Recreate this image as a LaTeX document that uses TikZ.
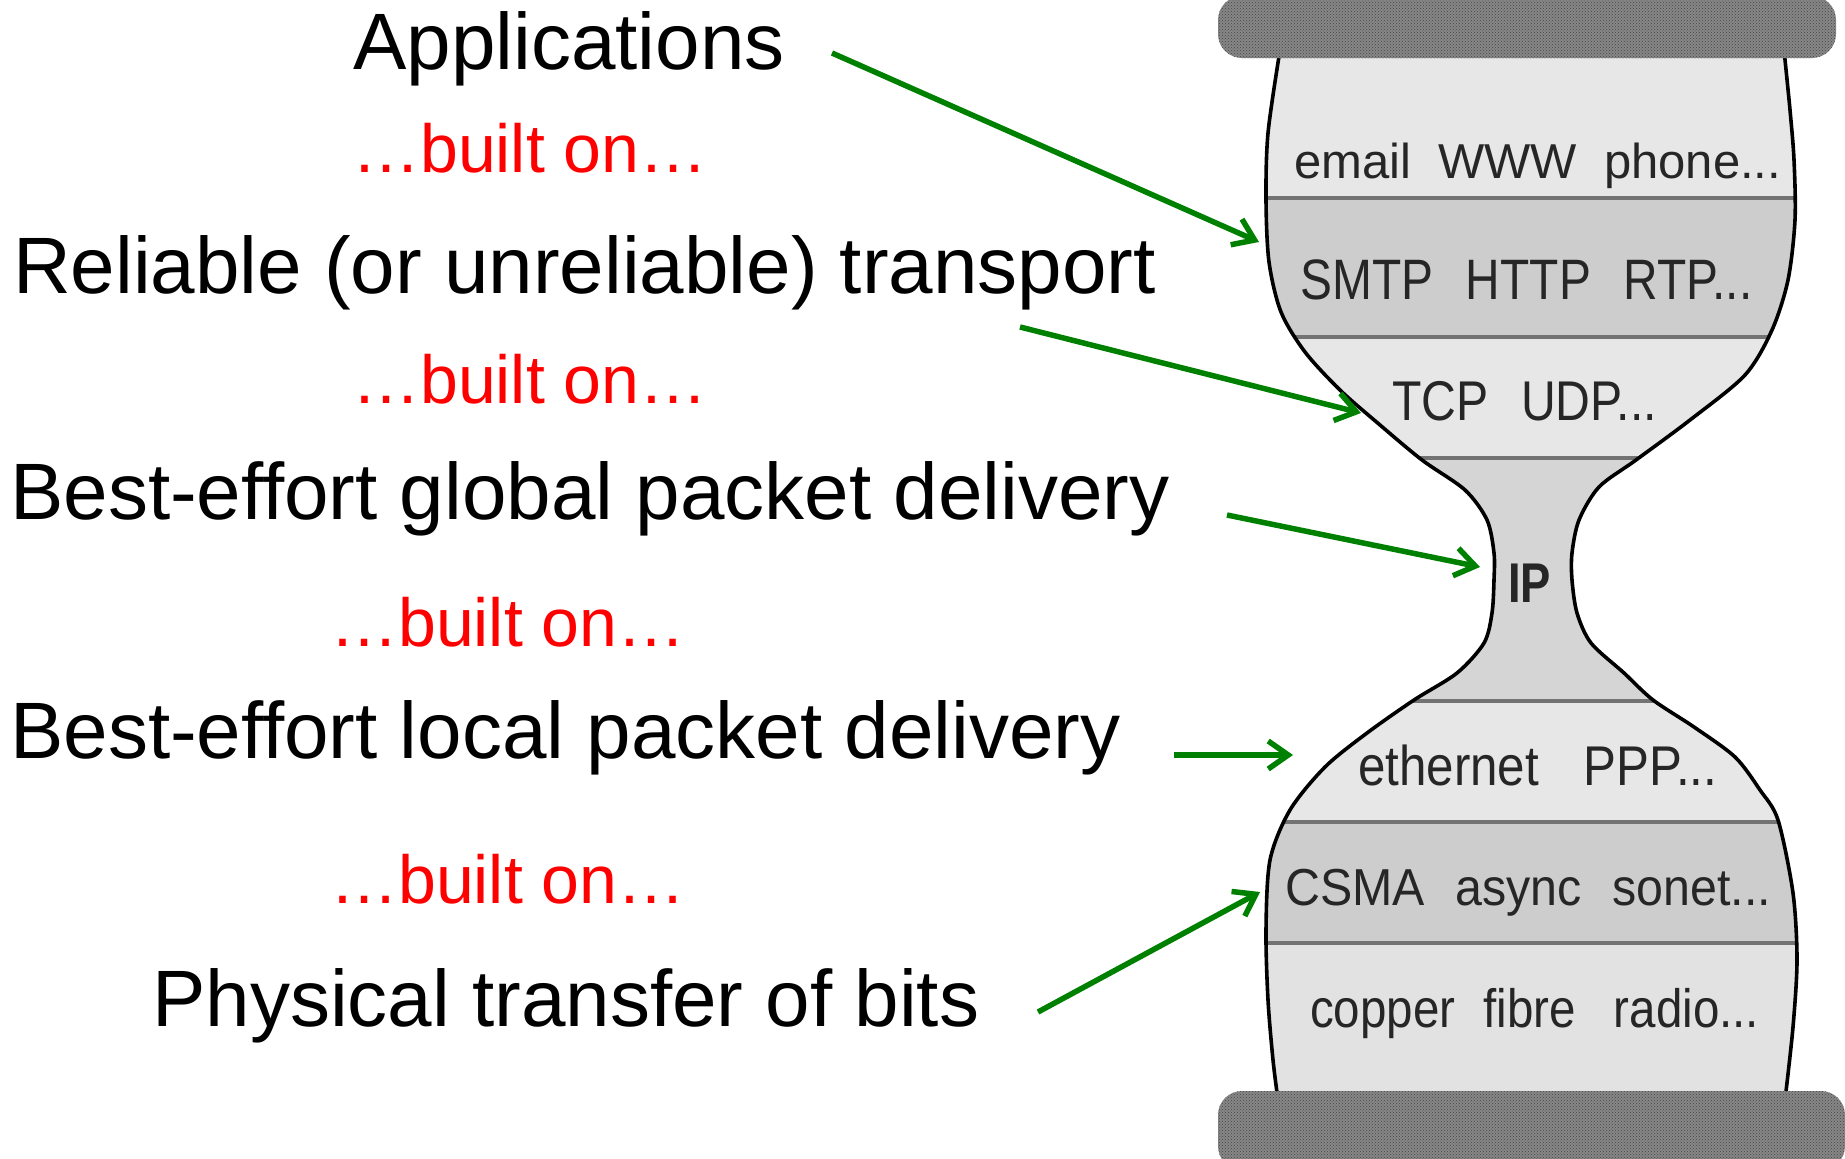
\documentclass[tikz,border=0pt]{standalone}
\usepackage{fontspec}
\setmainfont{Liberation Sans}
\usetikzlibrary{arrows.meta,patterns}
\definecolor{arrgreen}{RGB}{0,128,0}
\definecolor{bandlight}{RGB}{231,231,231}
\definecolor{bandlow}{RGB}{226,226,226}
\definecolor{banddark}{RGB}{205,205,205}
\definecolor{bandip}{RGB}{213,213,213}
\definecolor{sepgray}{RGB}{115,115,115}
\definecolor{capgray}{RGB}{135,135,135}
\definecolor{capdots}{RGB}{70,70,70}
\definecolor{hgtextc}{RGB}{38,38,38}
\newcommand{\hgoutline}{plot[smooth,tension=0.5] coordinates {(1280,50) (1268,133) (1266,200) (1269,262) (1281,312) (1305,352) (1340,390) (1380,425) (1422,460) (1465,490) (1487,520) (1494,553) (1494,580) (1492,613) (1484,643) (1457,673) (1414,700) (1367,733) (1325,767) (1290,810) (1270,860) (1266,930) (1268,1000) (1273,1060) (1278,1100)} -- plot[smooth,tension=0.5] coordinates {(1785,1100) (1793,1027) (1797,960) (1793,893) (1778,820) (1760,790) (1735,757) (1694,727) (1653,700) (1624,673) (1591,643) (1577,613) (1572,580) (1572,553) (1579,520) (1599,487) (1636,460) (1690,420) (1745,375) (1772,330) (1788,280) (1795,220) (1794,160) (1790,110) (1784,50)} -- cycle}
\begin{document}
\begin{tikzpicture}[x=1pt,y=-1pt,
  big/.style={font=\fontsize{80}{82}\selectfont, inner sep=0pt, anchor=base west},
  built/.style={font=\fontsize{68}{70}\selectfont, text=red, inner sep=0pt, anchor=base west},
  hgtext/.style={inner sep=0pt, anchor=base west, text=hgtextc},
  arr/.style={draw=arrgreen, line width=5.5pt, -{Straight Barb[length=20pt,width=28pt]}},
  capfill/.style={fill=capgray, rounded corners=24pt},
  capdot/.style={pattern=crosshatch dots, pattern color=capdots, rounded corners=24pt}]
\useasboundingbox (0,0) rectangle (1845,1159);

% hourglass body
\begin{scope}
  \clip \hgoutline;
  \fill[bandlight] (1200,0) rectangle (1845,198);
  \fill[banddark] (1200,198) rectangle (1845,337);
  \fill[bandlight] (1200,337) rectangle (1845,458);
  \fill[bandip] (1200,458) rectangle (1845,701);
  \fill[bandlight] (1200,701) rectangle (1845,822);
  \fill[banddark] (1200,822) rectangle (1845,943);
  \fill[bandlow] (1200,943) rectangle (1845,1159);
  \foreach \yy in {198,337,458,701,822,943}
    \draw[sepgray, line width=4.5pt] (1200,\yy) -- (1845,\yy);
\end{scope}
\draw[line width=3.6pt] \hgoutline;

% caps
\fill[capfill] (1218,-4) rectangle (1836,58);
\fill[capdot] (1218,-4) rectangle (1836,58);
\fill[capfill] (1218,1091) rectangle (1845,1170);
\fill[capdot] (1218,1091) rectangle (1845,1170);

% hourglass texts
\node[hgtext, font=\fontsize{49}{50}\selectfont] (lapp) at (1294,178) {email\hspace{27pt}WWW\hspace{27pt}phone...};
\node[hgtext, font=\fontsize{57}{58}\selectfont] (lsmtp) at (1300,299) {\scalebox{0.84}[1]{SMTP\hspace{39pt}HTTP\hspace{39pt}RTP...}};
\node[hgtext, font=\fontsize{56}{57}\selectfont] (ltcp) at (1392,420) {\scalebox{0.86}[1]{TCP\hspace{38pt}UDP...}};
\node[hgtext, font=\bfseries\fontsize{56}{57}\selectfont] (lip) at (1508,602) {\scalebox{0.81}[1]{IP}};
\node[hgtext, font=\fontsize{56}{57}\selectfont] (leth) at (1358,785) {\scalebox{0.88}[1]{ethernet\hspace{51pt}PPP...}};
\node[hgtext, font=\fontsize{52}{53}\selectfont] (lcsma) at (1285,905) {\scalebox{0.93}[1]{CSMA\hspace{33pt}async\hspace{33pt}sonet...}};
\node[hgtext, font=\fontsize{54}{55}\selectfont] (lcop) at (1310,1027) {\scalebox{0.88}[1]{copper\hspace{32pt}fibre\hspace{43pt}radio...}};

% left texts
\node[big] (tapp) at (353,69) {Applications};
\node[built] (b1) at (352,172) {…built on…};
\node[big] (trel) at (13,293) {Reliable (or unreliable) transport};
\node[built] (b2) at (352,403) {…built on…};
\node[big] (tglob) at (10,519) {Best-effort global packet delivery};
\node[built] (b3) at (330,646) {…built on…};
\node[big] (tloc) at (10,758) {Best-effort local packet delivery};
\node[built] (b4) at (330,903) {…built on…};
\node[big] (tphy) at (152,1026) {Physical transfer of bits};

% arrows
\coordinate (s1) at (832,53);   \coordinate (e1) at (1259,242);
\coordinate (s2) at (1020,327); \coordinate (e2) at (1361,413);
\coordinate (s3) at (1227,515); \coordinate (e3) at (1480,567);
\coordinate (s4) at (1174,755); \coordinate (e4) at (1293,755);
\coordinate (s5) at (1038,1012); \coordinate (e5) at (1260,892);
\draw[arr] (s1) -- (e1);
\draw[arr] (s2) -- (e2);
\draw[arr] (s3) -- (e3);
\draw[arr] (s4) -- (e4);
\draw[arr] (s5) -- (e5);
\end{tikzpicture}
\end{document}
